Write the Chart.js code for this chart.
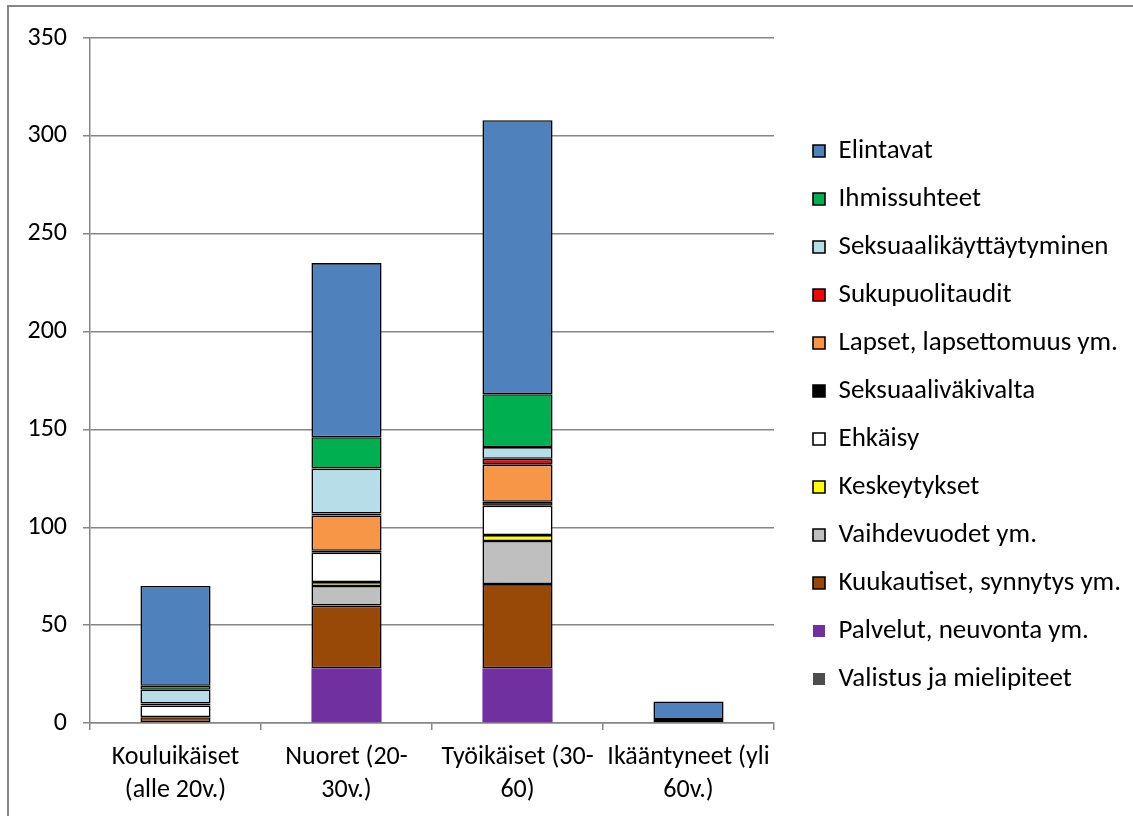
<!DOCTYPE html>
<html>
<head>
<meta charset="utf-8">
<script src="https://cdn.jsdelivr.net/npm/chart.js@4/dist/chart.umd.min.js"></script>
<style>
  html, body { margin: 0; padding: 0; background: #fff; }
  #wrap { position: relative; width: 1133px; height: 816px; }
  #frame { position: absolute; left: 7px; top: 5px; width: 1200px; height: 900px;
           border-left: 2px solid #868686; border-top: 2px solid #868686; }
  canvas { position: absolute; left: 0; top: 0; }
</style>
</head>
<body>
<div id="wrap">
  <div id="frame"></div>
  <canvas id="chart" width="1133" height="816"></canvas>
</div>
<script>
// categories and series, bottom of the stack first
const categories = [
  ['Kouluikäiset', '(alle 20v.)'],
  ['Nuoret (20-', '30v.)'],
  ['Työikäiset (30-', '60)'],
  ['Ikääntyneet (yli', '60v.)']
]
const yTicks = [0, 50, 100, 150, 200, 250, 300, 350]

const valistus = [0, 0, 0, 0]
const palvelut = [0, 28, 28, 0]
const kuukautiset = [3, 32, 43, 0]
const vaihdevuodet = [0, 10, 22, 0]
const keskeytykset = [0, 2, 3, 0]
const ehkaisy = [6, 15, 15, 0]
const seksuaalivakivalta = [1, 1, 2, 2]
const lapset = [0, 18, 19, 0]
const sukupuolitaudit = [0, 1, 3, 0]
const seksuaalikayttaytyminen = [7, 23, 6, 0]
const ihmissuhteet = [2, 16, 27, 0]
const elintavat = [51, 89, 140, 9]

const font = "Carlito, 'Open Sans', sans-serif"

function series (label, data, color, border) {
  return {
    label: label,
    data: data,
    backgroundColor: color,
    borderColor: border ? '#000000' : color,
    borderWidth: border ? 1.6 : 0,
    borderSkipped: false
  }
}

const datasets = [
  series('Valistus ja mielipiteet', valistus, '#4d4d4d', false),
  series('Palvelut, neuvonta ym.', palvelut, '#7030a0', false),
  series('Kuukautiset, synnytys ym.', kuukautiset, '#984807', true),
  series('Vaihdevuodet ym.', vaihdevuodet, '#bfbfbf', true),
  series('Keskeytykset', keskeytykset, '#ffff00', true),
  series('Ehkäisy', ehkaisy, '#ffffff', true),
  series('Seksuaaliväkivalta', seksuaalivakivalta, '#000000', true),
  series('Lapset, lapsettomuus ym.', lapset, '#f79646', true),
  series('Sukupuolitaudit', sukupuolitaudit, '#ff0000', true),
  series('Seksuaalikäyttäytyminen', seksuaalikayttaytyminen, '#b7dde8', true),
  series('Ihmissuhteet', ihmissuhteet, '#00b050', true),
  series('Elintavat', elintavat, '#4f81bd', true)
]

// the layout caps the legend width, so give it the whole strip right of the plot
const widenLegend = {
  id: 'widenLegend',
  afterLayout (chart) {
    const legend = chart.legend
    legend.left = chart.chartArea.right + 18
    legend.right = chart.width
    legend.width = legend.right - legend.left
    legend.top -= 12
    legend.bottom -= 12
  }
}

const chart = new Chart(document.getElementById('chart'), {
  type: 'bar',
  data: { labels: categories, datasets: datasets },
  plugins: [widenLegend],
  options: {
    responsive: false,
    animation: false,
    devicePixelRatio: 1,
    datasets: { bar: { barPercentage: 0.41, categoryPercentage: 1 } },
    layout: { padding: { left: 0, top: 38, right: 101, bottom: 0 } },
    plugins: {
      tooltip: { enabled: false },
      legend: {
        position: 'right',
        reverse: true,
        labels: {
          boxWidth: 12,
          boxHeight: 12,
          padding: 21,
          color: '#000',
          font: { family: font, size: 27 }
        }
      }
    },
    scales: {
      x: {
        stacked: true,
        afterFit: (scale) => { scale.height = 93 },
        grid: { offset: true, drawOnChartArea: false, color: '#868686', lineWidth: 1.5, tickLength: 7 },
        border: { color: '#868686', width: 1.5 },
        ticks: { color: '#000', font: { family: font, size: 26, lineHeight: 1.27 }, maxRotation: 0, padding: 11 }
      },
      y: {
        stacked: true,
        min: 0,
        max: 350,
        afterFit: (scale) => { scale.width = 90 },
        afterBuildTicks: (scale) => { scale.ticks = yTicks.map(v => ({ value: v })) },
        grid: { color: '#868686', lineWidth: 1.5, tickLength: 7 },
        border: { color: '#868686', width: 1.5 },
        ticks: { color: '#000', font: { family: font, size: 26 }, padding: 16 }
      }
    }
  }
})
</script>
</body>
</html>
